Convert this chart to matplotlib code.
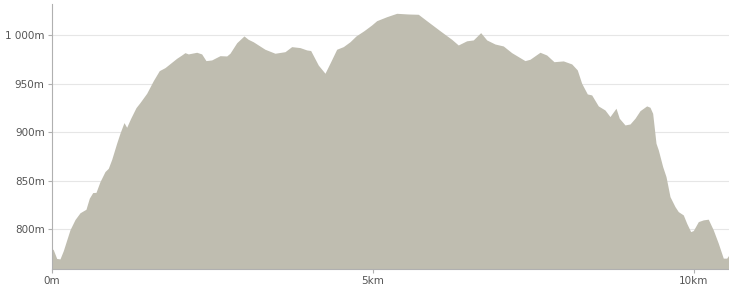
import numpy as np
import matplotlib.pyplot as plt

# 거리(km), 고도(m) - 그림에서 읽은 값
dist_km = [0.000, 0.025, 0.078, 0.129, 0.181, 0.234, 0.285, 0.363, 0.441, 0.534,
           0.586, 0.639, 0.690, 0.752, 0.830, 0.882, 0.935, 1.012, 1.064, 1.126,
           1.168, 1.231, 1.313, 1.375, 1.480, 1.583, 1.676, 1.765, 1.947, 2.025,
           2.076, 2.128, 2.259, 2.336, 2.403, 2.492, 2.622, 2.726, 2.777, 2.882,
           2.995, 3.062, 3.140, 3.322, 3.478, 3.634, 3.738, 3.868, 3.972, 4.034,
           4.153, 4.257, 4.346, 4.439, 4.542, 4.646, 4.740, 4.864, 4.984, 5.062,
           5.218, 5.374, 5.555, 5.710, 5.841, 6.048, 6.231, 6.333, 6.464, 6.567,
           6.682, 6.776, 6.905, 7.034, 7.165, 7.372, 7.450, 7.606, 7.710, 7.824,
           7.969, 8.100, 8.187, 8.255, 8.343, 8.411, 8.514, 8.618, 8.696, 8.790,
           8.841, 8.930, 9.008, 9.086, 9.164, 9.268, 9.319, 9.361, 9.413, 9.449,
           9.517, 9.569, 9.631, 9.709, 9.760, 9.838, 9.891, 9.953, 9.994, 10.072,
           10.150, 10.227, 10.305, 10.383, 10.461, 10.514, 10.550]
elev_m = [780.5, 779, 770, 769.5, 778, 789, 799.5, 810, 817, 820.6,
          832, 837.8, 838, 849, 859.4, 862.8, 872, 888.6, 899, 909.8,
          905, 914.3, 925.2, 930.4, 940, 953, 963.3, 966.4, 976, 979.4,
          981.8, 980.5, 982.2, 980.5, 973.6, 974.3, 978.7, 978.4, 981.2, 992,
          999, 995.5, 993, 985.3, 981.2, 982.8, 988, 987, 984.6, 984,
          969, 960.6, 972.5, 985.3, 988, 993, 999, 1004.4, 1010.3, 1014.7,
          1018.8, 1022.3, 1021.6, 1021.3, 1014.7, 1004.4, 995.5, 989.7, 994, 994.9,
          1002.4, 994.9, 990.7, 988.7, 981.8, 973.6, 975, 982.2, 979.4, 972.5,
          973.3, 970.2, 964, 950.3, 939.3, 938.3, 927, 922.8, 916, 924.6,
          914.3, 907.4, 908.4, 914.3, 922.1, 927, 925.6, 919.4, 888.6, 881.7,
          864.5, 854.2, 833.6, 823.3, 818.2, 814.8, 806.2, 797.6, 798.7, 807.9,
          809.7, 810.4, 799.4, 785.7, 770.3, 770.3, 773.7]

y_ticks = [800, 850, 900, 950, 1000]
y_labels = ["800m", "850m", "900m", "950m", "1 000m"]
x_ticks = [0, 5, 10]
x_labels = ["0m", "5km", "10km"]

fig = plt.figure(figsize=(7.29, 2.85), dpi=100)
ax = fig.add_axes([0.0709, 0.055, 0.9291, 0.930])

ymin = 758.8
ax.fill_between(dist_km, elev_m, ymin, color="#bfbdb0", linewidth=0, zorder=2)

ax.set_xlim(0, 10.55)
ax.set_ylim(ymin, 1031.6)

ax.set_yticks(y_ticks)
ax.set_yticklabels(y_labels)
ax.set_xticks(x_ticks)
ax.set_xticklabels(x_labels)

ax.grid(axis="y", color="#e6e6e6", linewidth=0.8, zorder=0)
ax.set_axisbelow(True)

for s in ["top", "right"]:
    ax.spines[s].set_visible(False)
ax.spines["left"].set_color("#b0b0b0")
ax.spines["bottom"].set_color("#b0b0b0")
ax.spines["left"].set_linewidth(0.8)
ax.spines["bottom"].set_linewidth(0.8)

ax.tick_params(axis="both", colors="#b0b0b0", labelcolor="#555555",
               labelsize=7.5, length=3, width=0.8, pad=2)

fig.savefig("out.png", dpi=100)
